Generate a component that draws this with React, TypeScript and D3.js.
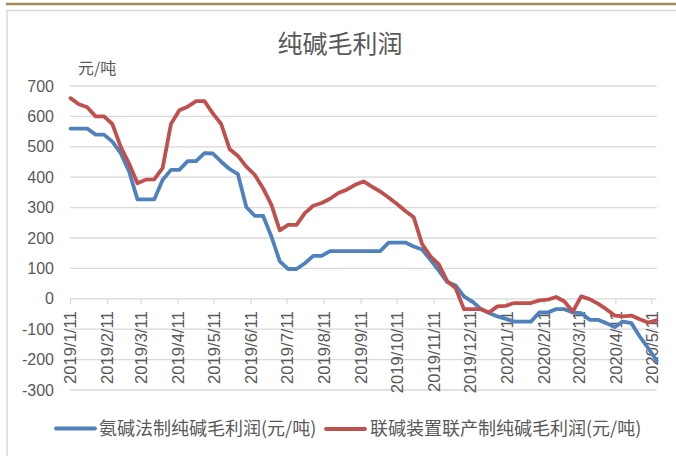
import React from "react";
import * as d3 from "d3";

const dates: string[] = [
  "2019-01-11","2019-01-18","2019-01-25","2019-02-01","2019-02-08","2019-02-15","2019-02-22","2019-03-01","2019-03-08","2019-03-15",
  "2019-03-22","2019-03-29","2019-04-05","2019-04-12","2019-04-19","2019-04-26","2019-05-03","2019-05-10","2019-05-17","2019-05-24",
  "2019-05-31","2019-06-07","2019-06-14","2019-06-21","2019-06-28","2019-07-05","2019-07-12","2019-07-19","2019-07-26","2019-08-02",
  "2019-08-09","2019-08-16","2019-08-23","2019-08-30","2019-09-06","2019-09-13","2019-09-20","2019-09-27","2019-10-04","2019-10-11",
  "2019-10-18","2019-10-25","2019-11-01","2019-11-08","2019-11-15","2019-11-22","2019-11-29","2019-12-06","2019-12-13","2019-12-20",
  "2019-12-27","2020-01-03","2020-01-10","2020-01-17","2020-01-24","2020-01-31","2020-02-07","2020-02-14","2020-02-21","2020-02-28",
  "2020-03-06","2020-03-13","2020-03-20","2020-03-27","2020-04-03","2020-04-10","2020-04-17","2020-04-24","2020-05-01","2020-05-08",
  "2020-05-15",
];

const ammoniaSoda: number[] = [
  560, 560, 560, 540, 540, 517, 479, 419, 327, 327,
  327, 391, 424, 424, 453, 453, 479, 478, 451, 427,
  410, 302, 273, 273, 205, 123, 98, 98, 117, 141,
  141, 157, 157, 157, 157, 157, 157, 157, 185, 185,
  185, 172, 162, 128, 93, 55, 44, 8, -9, -33,
  -47, -58, -66, -75, -75, -75, -45, -45, -34, -34,
  -45, -47, -69, -69, -80, -93, -75, -80, -124, -162,
  -203,
];

const jointSoda: number[] = [
  660, 640, 630, 600, 600, 575, 500, 445, 380, 392,
  393, 430, 575, 620, 632, 650, 650, 610, 575, 493,
  470, 435, 408, 364, 309, 225, 243, 243, 282, 306,
  315, 329, 348, 359, 375, 386, 369, 353, 333, 312,
  289, 268, 180, 140, 113, 58, 35, -34, -34, -34,
  -45, -25, -23, -14, -14, -14, -5, -3, 6, -9,
  -42, 8, -1, -16, -34, -55, -58, -55, -67, -78,
  -71,
];

const xTickLabels: string[] = [
  "2019/1/11","2019/2/11","2019/3/11","2019/4/11","2019/5/11","2019/6/11","2019/7/11","2019/8/11","2019/9/11",
  "2019/10/11","2019/11/11","2019/12/11","2020/1/11","2020/2/11","2020/3/11","2020/4/11","2020/5/11",
];
const yTicks: number[] = [700, 600, 500, 400, 300, 200, 100, 0, -100, -200, -300];

const seriesNames: string[] = ["氨碱法制纯碱毛利润(元/吨)", "联碱装置联产制纯碱毛利润(元/吨)"];
const seriesColors: string[] = ["#4f81bd", "#c0504d"];

const W = 676;
const H = 456;
const CJK = "'Noto Sans CJK SC', sans-serif";
const LATIN = "'Liberation Sans', Arial, sans-serif";
const TXT = "#595959";

export default function App() {
  const parse = d3.timeParse("%Y-%m-%d");
  const parseTick = d3.timeParse("%Y/%m/%d");
  const xs = dates.map((d) => parse(d) as Date);
  const x = d3.scaleTime().domain([xs[0], xs[xs.length - 1]]).range([70.5, 656.5]);
  const y = d3.scaleLinear().domain([-300, 700]).range([390, 86]);

  const line = d3
    .line<number>()
    .x((_, i) => x(xs[i]))
    .y((v) => y(v))
    .curve(d3.curveLinear);

  const series = [ammoniaSoda, jointSoda];

  return (
    <svg
      width={W}
      height={H}
      style={{ position: "absolute", left: 0, top: 0, background: "#fff" }}
    >
      <rect x={0} y={0} width={W} height={H} fill="#fff" />
      <line x1={6} x2={W} y1={4} y2={4} stroke="#a68b55" strokeWidth={2.5} />
      <rect x={7} y={10.5} width={700} height={500} fill="none" stroke="#d9d9d9" strokeWidth={1.5} />

      <text x={340} y={53} textAnchor="middle" fontFamily={CJK} fontSize={25} fill={TXT}>
        纯碱毛利润
      </text>
      <text x={78} y={74} fontFamily={CJK} fontSize={16} fill={TXT}>
        元/吨
      </text>

      {yTicks.map((t) => (
        <g key={t}>
          <line x1={70} x2={656.7} y1={y(t)} y2={y(t)} stroke="#d9d9d9" strokeWidth={1.3} />
          <text
            x={54}
            y={y(t)}
            dy="0.35em"
            textAnchor="end"
            fontFamily={LATIN}
            fontSize={16}
            fill={TXT}
          >
            {t}
          </text>
        </g>
      ))}

      {xTickLabels.map((lbl) => {
        const px = x(parseTick(lbl) as Date);
        return (
          <g key={lbl}>
            <line x1={px} x2={px} y1={y(0)} y2={y(0) + 5} stroke="#d9d9d9" strokeWidth={1.3} />
            <text
              transform={`translate(${px},${y(0) + 12.5}) rotate(-90)`}
              textAnchor="end"
              dy="0.35em"
              fontFamily={LATIN}
              fontSize={16.6}
              fill={TXT}
            >
              {lbl}
            </text>
          </g>
        );
      })}

      {series.map((s, k) => (
        <path
          key={k}
          d={line(s) || ""}
          fill="none"
          stroke={seriesColors[k]}
          strokeWidth={3.8}
          strokeLinejoin="round"
          strokeLinecap="round"
        />
      ))}

      <g>
        <line x1={56} x2={95} y1={428.5} y2={428.5} stroke={seriesColors[0]} strokeWidth={3.8} strokeLinecap="round" />
        <text x={99} y={428.5} dy="0.35em" fontFamily={CJK} fontSize={18} fill={TXT}>
          {seriesNames[0]}
        </text>
        <line x1={326} x2={365} y1={429} y2={429} stroke={seriesColors[1]} strokeWidth={3.8} strokeLinecap="round" />
        <text x={370} y={429} dy="0.35em" fontFamily={CJK} fontSize={18} fill={TXT}>
          {seriesNames[1]}
        </text>
      </g>
    </svg>
  );
}
